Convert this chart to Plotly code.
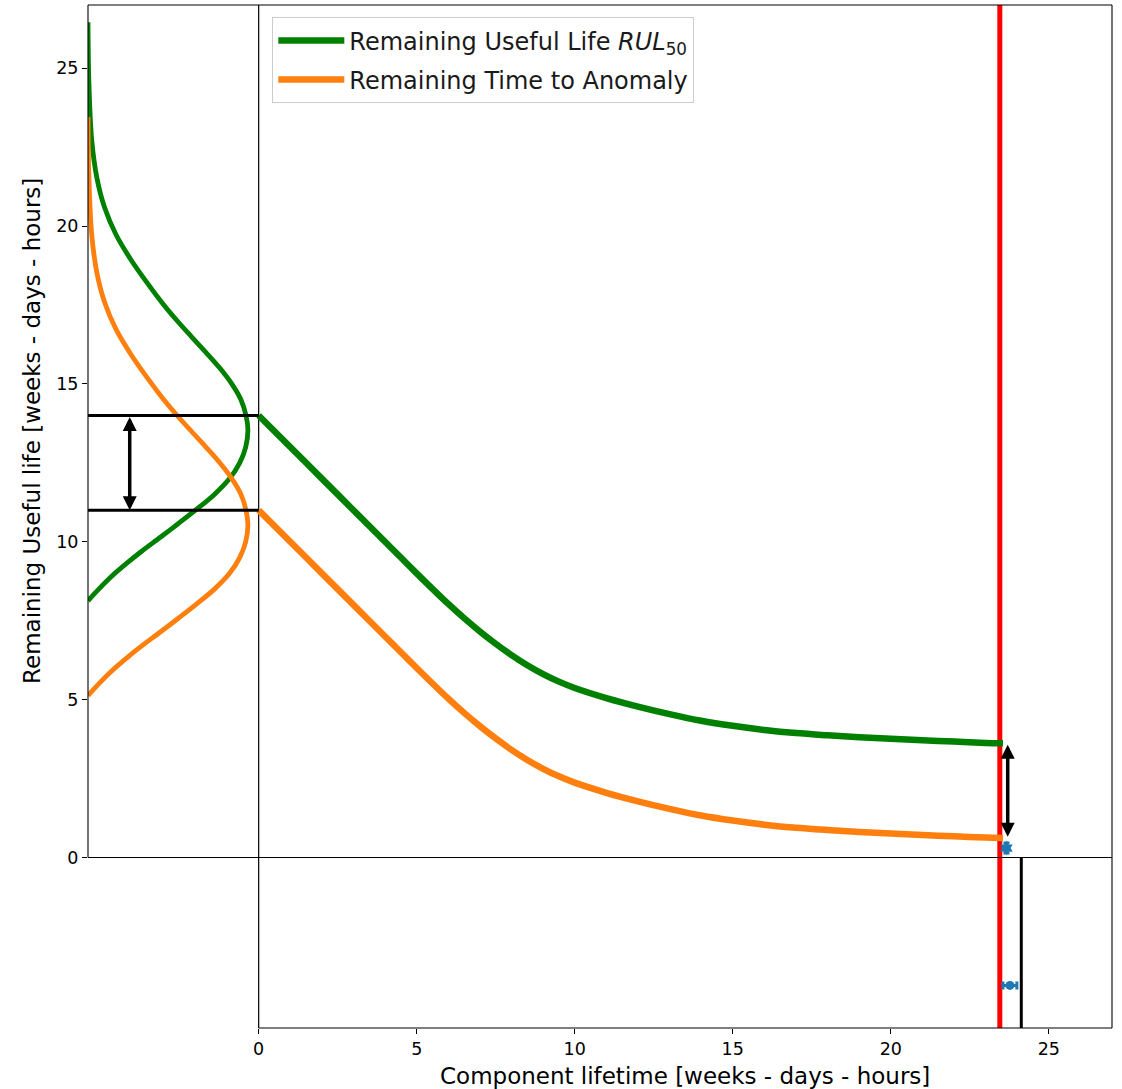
import plotly.graph_objects as go

# Component lifetime axis samples and the two prognosis curves
life = [0, 1, 2, 3, 4, 4.5, 5, 5.5, 6, 6.5, 7, 7.5, 8, 8.5, 9, 9.5, 10, 11, 12, 13, 14, 15, 16, 17, 18,
        19, 20, 21, 22, 23, 23.55]
rul50 = [14.0, 13.0, 12.0, 11.0, 10.0, 9.5, 9.0, 8.51, 8.03, 7.58, 7.16, 6.77, 6.41, 6.09, 5.81, 5.57,
         5.37, 5.05, 4.78, 4.54, 4.33, 4.17, 4.04, 3.94, 3.87, 3.81, 3.76, 3.71, 3.67, 3.63, 3.62]
time_to_anomaly = [11.0, 10.0, 9.0, 8.0, 7.0, 6.5, 6.0, 5.51, 5.03, 4.58, 4.16, 3.77, 3.41, 3.09, 2.81, 2.57,
                   2.37, 2.05, 1.78, 1.54, 1.33, 1.17, 1.04, 0.94, 0.87, 0.81, 0.76, 0.71, 0.67, 0.63, 0.62]

# Initial distributions drawn sideways against the left margin (value, density offset)
rul_dist_y = [8.13, 8.5, 8.9, 9.3, 9.7, 10.15, 10.57, 11.0, 11.5, 12.0, 12.5, 13.0, 13.54, 14.0, 14.5,
              15.0, 15.5, 16.0, 16.5, 17.0, 17.5, 18.16, 18.9, 19.74, 20.6, 21.53, 22.7, 24.5, 26.45]
rul_dist_x = [-5.40, -5.06, -4.66, -4.20, -3.70, -3.10, -2.55, -2.00, -1.40, -0.92, -0.60, -0.41, -0.34, -0.40,
              -0.56, -0.85, -1.23, -1.67, -2.13, -2.58, -3.00, -3.50, -4.02, -4.52, -4.88, -5.12, -5.28, -5.37,
              -5.40]
rta_dist_y = [5.13, 5.5, 5.9, 6.3, 6.7, 7.15, 7.57, 8.0, 8.5, 9.0, 9.5, 10.0, 10.54, 11.0, 11.5,
              12.0, 12.5, 13.0, 13.5, 14.0, 14.5, 15.16, 15.9, 16.74, 17.6, 18.53, 19.7, 21.5, 23.45]
rta_dist_x = [-5.40, -5.06, -4.66, -4.20, -3.70, -3.10, -2.55, -2.00, -1.40, -0.92, -0.60, -0.41, -0.34, -0.40,
              -0.56, -0.85, -1.23, -1.67, -2.13, -2.58, -3.00, -3.50, -4.02, -4.52, -4.88, -5.12, -5.28, -5.37,
              -5.40]

# Reference levels and events
rul_start = 14.0
rta_start = 11.0
end_of_life = 23.45
failure_time = 24.13
pred_point = (23.66, 0.30, 0.16)      # x, y, y error
pred_time = (23.77, -4.05, 0.22)      # x, y, x error

x_ticks = [0, 5, 10, 15, 20, 25]
y_ticks = [0, 5, 10, 15, 20, 25]
X_RANGE = [-5.4, 27.0]
Y_RANGE = [-5.4, 27.0]

GREEN = "#008000"
ORANGE = "#ff7f0e"
BLUE = "#1f77b4"
FONT = "DejaVu Sans"


def xp(v):
    return (v - X_RANGE[0]) / (X_RANGE[1] - X_RANGE[0])


def yp(v):
    return (v - Y_RANGE[0]) / (Y_RANGE[1] - Y_RANGE[0])


fig = go.Figure()

fig.add_trace(go.Scatter(x=rul_dist_x, y=rul_dist_y, mode="lines",
                         line=dict(color=GREEN, width=4.8, shape="spline", smoothing=1.0),
                         showlegend=False, hoverinfo="skip"))
fig.add_trace(go.Scatter(x=rta_dist_x, y=rta_dist_y, mode="lines",
                         line=dict(color=ORANGE, width=4.8, shape="spline", smoothing=1.0),
                         showlegend=False, hoverinfo="skip"))
fig.add_trace(go.Scatter(x=life, y=rul50, mode="lines", legendgroup="rul",
                         line=dict(color=GREEN, width=6.5, shape="spline", smoothing=0.8),
                         name="Remaining Useful Life <i>RUL</i><sub>50</sub>"))
fig.add_trace(go.Scatter(x=life, y=time_to_anomaly, mode="lines", legendgroup="rta",
                         line=dict(color=ORANGE, width=6.5, shape="spline", smoothing=0.8),
                         name="Remaining Time to Anomaly"))

fig.add_trace(go.Scatter(x=[pred_point[0]], y=[pred_point[1]], mode="markers",
                         marker=dict(color=BLUE, size=11, symbol="hexagram"),
                         error_y=dict(type="data", array=[pred_point[2]], color=BLUE, thickness=3, width=3),
                         showlegend=False, hoverinfo="skip"))
fig.add_trace(go.Scatter(x=[pred_time[0]], y=[pred_time[1]], mode="markers",
                         marker=dict(color=BLUE, size=9, symbol="circle"),
                         error_x=dict(type="data", array=[pred_time[2]], color=BLUE, thickness=3, width=4),
                         showlegend=False, hoverinfo="skip"))

shapes = []


def line(x0, y0, x1, y1, color="black", width=1.1, ref="data", layer="above"):
    xr, yr = ("x", "y") if ref == "data" else ("paper", "paper")
    shapes.append(dict(type="line", xref=xr, yref=yr, x0=x0, y0=y0, x1=x1, y1=y1,
                       line=dict(color=color, width=width), layer=layer))


# event markers
line(end_of_life, Y_RANGE[0], end_of_life, Y_RANGE[1], color="red", width=5, layer="below")
line(failure_time, Y_RANGE[0], failure_time, 0, width=3)
line(X_RANGE[0], rul_start, 0, rul_start, width=3)
line(X_RANGE[0], rta_start, 0, rta_start, width=3)

# zero lines
line(X_RANGE[0], 0, X_RANGE[1], 0, width=1.2, layer="below")
line(0, Y_RANGE[0], 0, Y_RANGE[1], width=1.2, layer="below")

# spines with trimmed bounds
line(0, yp(0), 0, 1, ref="paper")
line(0, 1, 1, 1, ref="paper")
line(1, 0, 1, 1, ref="paper")
line(xp(0), 0, 1, 0, ref="paper")

annotations = []


def double_arrow(x, y_top, y_bottom):
    annotations.append(dict(x=x, y=y_bottom, ax=x, ay=y_top, xref="x", yref="y", axref="x", ayref="y",
                            text="", showarrow=True, arrowside="end+start", arrowhead=2, startarrowhead=2,
                            arrowsize=0.8, startarrowsize=0.8, arrowwidth=3.5, arrowcolor="black",
                            standoff=0, startstandoff=0))


double_arrow(-4.08, rul_start, rta_start)
double_arrow(23.70, rul50[-1], time_to_anomaly[-1] + 0.04)

annotations.append(dict(text="Component lifetime [weeks - days - hours]", xref="paper", yref="paper",
                        x=xp(0) + (1 - xp(0)) / 2, y=-0.047, xanchor="center", yanchor="middle",
                        showarrow=False, font=dict(size=23, family=FONT, color="black")))
annotations.append(dict(text="Remaining Useful life [weeks - days - hours]", xref="paper", yref="paper",
                        x=-0.054, y=yp(0) + (1 - yp(0)) / 2, xanchor="center", yanchor="middle", textangle=-90,
                        showarrow=False, font=dict(size=23, family=FONT, color="black")))

axis_common = dict(showgrid=False, zeroline=False, showline=False, ticks="outside", ticklen=5,
                   tickwidth=1.1, tickcolor="black", tickfont=dict(size=17.5, family=FONT, color="black"))

fig.update_layout(
    width=1122, height=1089,
    margin=dict(l=88, r=10, t=5, b=61),
    plot_bgcolor="white", paper_bgcolor="white",
    font=dict(family=FONT, color="black"),
    xaxis=dict(range=X_RANGE, tickvals=x_ticks, **axis_common),
    yaxis=dict(range=Y_RANGE, tickvals=y_ticks, **axis_common),
    shapes=shapes,
    annotations=annotations,
    legend=dict(x=0.18, y=0.988, xanchor="left", yanchor="top", bgcolor="rgba(255,255,255,0.85)",
                bordercolor="#cccccc", borderwidth=1, itemwidth=66, tracegroupgap=5,
                font=dict(size=24, family=FONT, color="#1a1a1a")),
)

fig.write_html("out.html")
